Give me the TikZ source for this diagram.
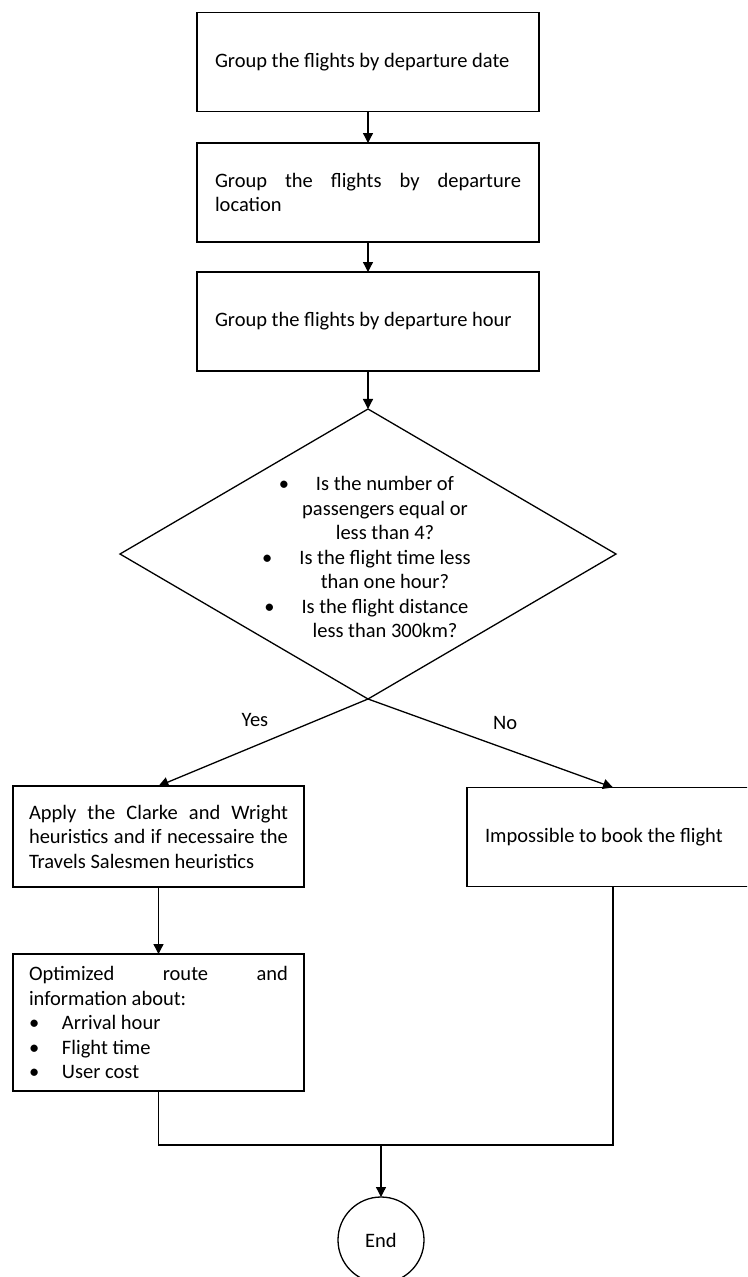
\documentclass[tikz,border=0pt]{standalone}
\usepackage{fontspec}
\setmainfont{Carlito}
\usetikzlibrary{shapes.geometric,arrows.meta}
\hyphenpenalty=10000
\exhyphenpenalty=10000
\begin{document}
\begin{tikzpicture}[x=1pt,y=-1pt,
  txt/.style={font=\fontsize{20.5}{24.5}\selectfont},
  stepbox/.style={txt,draw,line width=1.3pt,rectangle,outer sep=0pt,inner ysep=0pt,align=justify},
  widebox/.style={stepbox,text width=306pt,inner xsep=18pt,minimum height=99pt},
  narrowbox/.style={stepbox,text width=259pt,inner xsep=16pt},
  decision/.style={draw,line width=1.3pt,diamond,inner sep=0pt,outer sep=0pt,minimum width=496pt,minimum height=290pt},
  terminal/.style={txt,draw,line width=1.3pt,circle,inner sep=0pt,outer sep=0pt,minimum size=86pt},
  arr/.style={line width=1.3pt,-{Triangle[length=10pt,width=10pt]}},
  wire/.style={line width=1.3pt}]
\useasboundingbox (0,0) rectangle (747,1277);
\clip (0,0) rectangle (747,1277);

% processing chain
\node[widebox] (b1) at (368,62) {Group the flights by departure date};
\node[widebox] (b2) at (368,192.5) {Group the flights by departure\linebreak location};
\node[widebox] (b3) at (368,321.5) {Group the flights by departure hour};

% decision
\node[decision] (dec) at (368,554) {};
\node[txt,align=center,inner sep=0pt] (dectext) at (385,557) {%
  \llap{\textbullet\hspace{27pt}}Is the number of\\
  passengers equal or\\
  less than 4?\\
  \llap{\textbullet\hspace{27pt}}Is the flight time less\\
  than one hour?\\
  \llap{\textbullet\hspace{27pt}}Is the flight distance\\
  less than 300km?};

% outcomes
\node[narrowbox,minimum height=101pt] (b4) at (158.5,836.5)
  {Apply the Clarke and Wright\linebreak heuristics and if necessaire the\linebreak Travels Salesmen heuristics};
\node[stepbox,text width=256pt,inner xsep=18pt,minimum height=99pt] (b5) at (613,837)
  {Impossible to book the flight};
\node[narrowbox,minimum height=137pt] (b6) at (158.5,1022.5)
  {Optimized route and\linebreak information about:\par
   \noindent\makebox[33pt][l]{\textbullet}Arrival hour\par
   \noindent\makebox[33pt][l]{\textbullet}Flight time\par
   \noindent\makebox[33pt][l]{\textbullet}User cost};

\node[terminal] (end) at (381,1240) {End};
\coordinate (join) at (381,1145);

% connectors
\draw[arr] (b1) -- (b2);
\draw[arr] (b2) -- (b3);
\draw[arr] (b3) -- (dec);
\draw[arr] (dec.south) -- node[txt,pos=0.54,yshift=26pt] (yes) {Yes} (b4.north);
\draw[arr] (dec.south) -- node[txt,pos=0.56,yshift=26pt] (no) {No} (b5.north);
\draw[arr] (b4) -- (b6);
\draw[wire] (b6.south) |- (join);
\draw[wire] (b5.south) |- (join);
\draw[arr] (join) -- (end);
\end{tikzpicture}
\end{document}
